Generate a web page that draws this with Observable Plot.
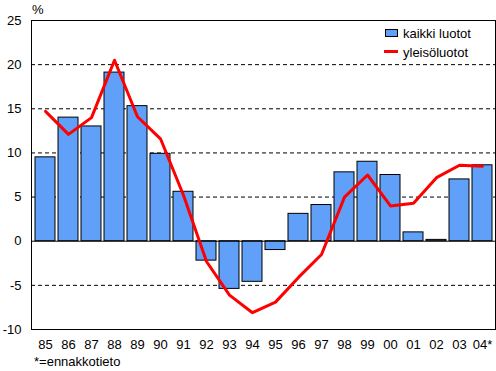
<!DOCTYPE html>
<html>
<head>
<meta charset="utf-8">
<script src="https://cdn.jsdelivr.net/npm/d3@7"></script>
<script src="https://cdn.jsdelivr.net/npm/@observablehq/plot@0.6"></script>
<style>
  body { margin: 0; background: white; }
  #wrap { position: relative; width: 496px; height: 371px; font-family: "Liberation Sans", Arial, sans-serif; font-size: 13px; color: black; }
  .abs { position: absolute; white-space: nowrap; line-height: 13px; }
  .sw-bar { position: absolute; width: 11px; height: 6px; background: #60a0f8; border: 1px solid black; }
  .sw-line { position: absolute; width: 14px; height: 3px; background: #ff0000; }
</style>
</head>
<body>
<div id="wrap"></div>
<script>
const years = ["85","86","87","88","89","90","91","92","93","94","95","96","97","98","99","00","01","02","03","04*"];
const kaikkiLuotot = [9.5, 14.0, 13.0, 19.1, 15.3, 9.9, 5.6, -2.2, -5.4, -4.6, -1.0, 3.1, 4.1, 7.8, 9.0, 7.5, 1.0, 0.15, 7.0, 8.6];
const yleisoluotot = [14.7, 12.1, 14.0, 20.5, 14.1, 11.6, 5.2, -2.3, -6.1, -8.1, -6.9, -4.1, -1.5, 5.0, 7.5, 4.0, 4.3, 7.2, 8.6, 8.5];
const yTicks = [-10, -5, 0, 5, 10, 15, 20, 25];
const gridValues = [-5, 5, 10, 15, 20];
const seriesNames = ["kaikki luotot", "yleisöluotot"];

const rows = years.map((y, i) => ({year: y, kaikki: kaikkiLuotot[i], yleiso: yleisoluotot[i]}));

const chart = Plot.plot({
  width: 496,
  height: 371,
  marginLeft: 31,
  marginRight: 1,
  marginTop: 20,
  marginBottom: 42,
  style: {fontFamily: "'Liberation Sans', Arial, sans-serif", fontSize: "13px", color: "black", background: "white", overflow: "visible"},
  x: {type: "band", domain: years, paddingInner: 0.14, paddingOuter: 0.06, label: null},
  y: {domain: [-10, 25], label: null},
  marks: [
    Plot.gridY(gridValues, {stroke: "black", strokeOpacity: 1, strokeDasharray: "4,3"}),
    Plot.barY(rows, {x: "year", y: "kaikki", fill: "#60a0f8", stroke: "black", strokeWidth: 1}),
    Plot.ruleY([0], {stroke: "black", strokeWidth: 1}),
    Plot.line(rows, {x: "year", y: "yleiso", stroke: "#ff0000", strokeWidth: 3}),
    Plot.frame({stroke: "black"}),
    Plot.axisX({tickSize: 0, tickPadding: 10, label: null}),
    Plot.axisY(yTicks, {tickSize: 0, tickPadding: 10, label: null, tickFormat: d => String(d)})
  ]
});

const wrap = document.getElementById("wrap");
wrap.appendChild(chart);

function addText(txt, left, top) {
  const d = document.createElement("div");
  d.className = "abs";
  d.textContent = txt;
  d.style.left = left + "px";
  d.style.top = top + "px";
  wrap.appendChild(d);
}
addText("%", 32, 3);
addText("*=ennakkotieto", 34, 355);

const sb = document.createElement("div");
sb.className = "sw-bar";
sb.style.left = "385px"; sb.style.top = "29px";
wrap.appendChild(sb);
addText(seriesNames[0], 403, 27);
const sl = document.createElement("div");
sl.className = "sw-line";
sl.style.left = "384px"; sl.style.top = "50px";
wrap.appendChild(sl);
addText(seriesNames[1], 403, 46);
</script>
</body>
</html>
